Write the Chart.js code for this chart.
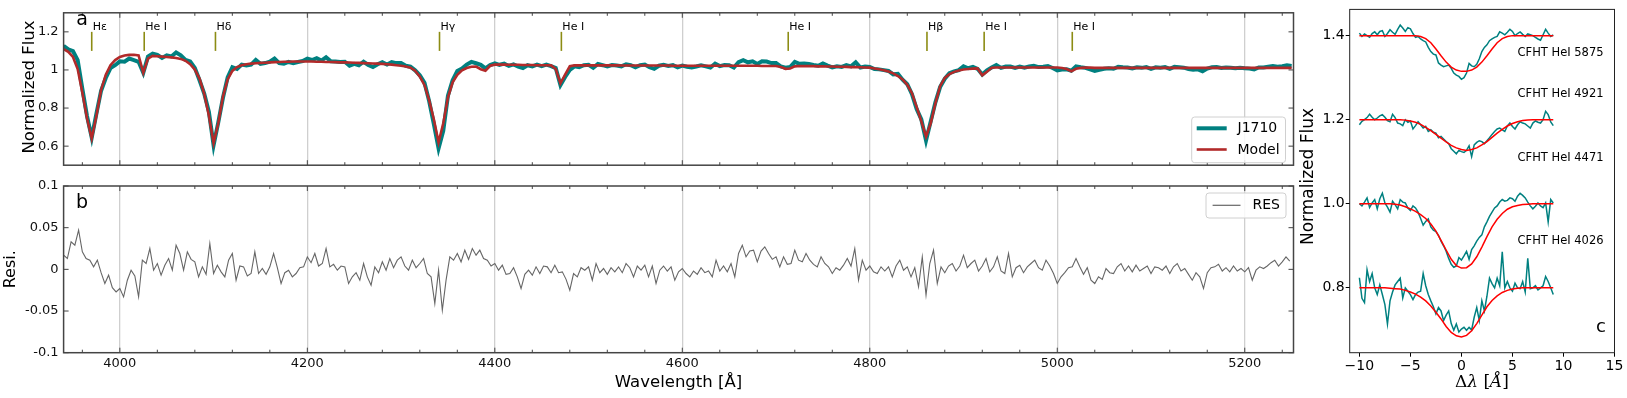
<!DOCTYPE html>
<html><head><meta charset="utf-8">
<script src="https://cdn.jsdelivr.net/npm/chart.js@4.4.1/dist/chart.umd.min.js"></script>
<style>
html,body{margin:0;padding:0;background:#fff;width:1627px;height:398px;overflow:hidden;position:relative}
canvas{position:absolute}
</style></head><body>
<canvas id="c1" width="1300" height="178" style="left:0;top:0"></canvas>
<canvas id="c2" width="1300" height="228" style="left:0;top:170px"></canvas>
<canvas id="c3" width="332" height="398" style="left:1295px;top:0"></canvas>
<script>
// ---------------- DATA ----------------
const specStart = 3940, specStep = 5;
const modelFlux = [
1.110,1.095,1.068,1.005,0.880,0.745,0.640,0.760,0.895,0.975,
1.025,1.052,1.068,1.076,1.079,1.080,1.076,0.985,1.060,1.074,
1.072,1.070,1.068,1.066,1.063,1.058,1.048,1.030,1.002,0.955,
0.875,0.760,0.615,0.720,0.860,0.950,0.995,1.015,1.025,1.030,
1.033,1.035,1.037,1.038,1.040,1.041,1.042,1.043,1.043,1.044,
1.044,1.044,1.044,1.044,1.043,1.043,1.042,1.042,1.041,1.040,
1.040,1.039,1.038,1.037,1.036,1.035,1.034,1.033,1.032,1.030,
1.028,1.025,1.022,1.018,1.012,0.996,0.965,0.920,0.840,0.740,
0.620,0.720,0.855,0.935,0.975,0.998,1.010,1.017,1.018,1.004,
0.996,1.022,1.028,1.028,1.028,1.027,1.027,1.027,1.026,1.026,
1.026,1.025,1.025,1.025,1.024,1.005,0.930,0.975,1.020,1.024,
1.024,1.024,1.024,1.024,1.024,1.024,1.024,1.024,1.024,1.023,
1.023,1.023,1.023,1.023,1.023,1.023,1.023,1.023,1.023,1.023,
1.022,1.022,1.022,1.022,1.022,1.022,1.022,1.022,1.022,1.022,
1.022,1.022,1.022,1.022,1.022,1.022,1.022,1.022,1.022,1.021,
1.021,1.021,1.021,1.016,1.006,1.008,1.019,1.021,1.020,1.020,
1.020,1.019,1.019,1.018,1.018,1.017,1.017,1.016,1.015,1.015,
1.014,1.013,1.012,1.008,1.004,0.999,0.992,0.982,0.968,0.950,
0.922,0.878,0.805,0.730,0.650,0.720,0.825,0.915,0.958,0.978,
0.990,0.997,1.002,1.005,1.007,1.008,0.972,0.990,1.012,1.013,
1.013,1.013,1.013,1.013,1.013,1.013,1.013,1.013,1.013,1.013,
1.013,1.013,1.013,1.010,1.005,0.993,1.006,1.011,1.012,1.012,
1.011,1.011,1.011,1.011,1.011,1.011,1.011,1.011,1.011,1.011,
1.011,1.011,1.011,1.011,1.011,1.011,1.011,1.011,1.011,1.011,
1.011,1.011,1.011,1.011,1.011,1.011,1.011,1.011,1.011,1.011,
1.011,1.011,1.011,1.011,1.011,1.011,1.011,1.011,1.011,1.011,
1.011,1.011,1.011];
const obsFlux = [
1.127,1.108,1.099,1.052,0.901,0.758,0.645,0.771,0.891,0.958,
1.010,1.025,1.045,1.043,1.060,1.052,1.043,0.985,1.070,1.085,
1.079,1.063,1.077,1.071,1.092,1.077,1.053,1.045,1.011,0.946,
0.876,0.780,0.605,0.725,0.854,0.961,1.014,1.005,1.028,1.024,
1.028,1.052,1.032,1.036,1.043,1.060,1.036,1.033,1.042,1.036,
1.042,1.047,1.059,1.052,1.062,1.049,1.067,1.046,1.044,1.042,
1.043,1.022,1.032,1.024,1.043,1.026,1.015,1.030,1.041,1.029,
1.041,1.036,1.037,1.022,1.017,0.998,0.972,0.933,0.835,0.715,
0.588,0.680,0.865,0.946,0.994,1.007,1.028,1.042,1.035,1.027,
1.008,1.026,1.035,1.027,1.033,1.021,1.029,1.018,1.010,1.025,
1.019,1.028,1.020,1.028,1.020,1.010,0.920,0.963,1.000,1.019,
1.015,1.025,1.027,1.011,1.031,1.025,1.018,1.026,1.023,1.019,
1.030,1.025,1.014,1.025,1.028,1.014,1.006,1.022,1.027,1.021,
1.025,1.014,1.023,1.017,1.013,1.018,1.024,1.019,1.013,1.033,
1.020,1.026,1.025,1.013,1.041,1.051,1.040,1.045,1.031,1.045,
1.044,1.036,1.036,1.019,1.012,1.015,1.042,1.032,1.034,1.031,
1.026,1.022,1.034,1.023,1.013,1.019,1.016,1.025,1.019,1.040,
1.013,1.018,1.016,1.005,1.003,0.999,0.995,0.977,0.979,0.949,
0.925,0.873,0.795,0.740,0.630,0.730,0.830,0.910,0.954,0.983,
0.993,0.999,1.019,1.009,1.016,1.006,0.976,0.998,1.013,1.026,
1.011,1.018,1.018,1.011,1.018,1.012,1.018,1.022,1.015,1.017,
1.021,1.010,0.998,1.002,1.003,0.996,1.019,1.014,1.011,1.003,
0.995,1.001,1.006,1.009,1.006,1.016,1.014,1.013,1.008,1.014,
1.011,1.015,1.006,1.014,1.012,1.015,1.006,1.016,1.014,1.012,
1.005,1.001,1.003,0.993,1.007,1.014,1.015,1.010,1.013,1.012,
1.009,1.012,1.009,1.007,1.003,1.013,1.013,1.017,1.021,1.017,
1.020,1.024,1.021];

const resStart = 3940, resStep = 4;
const residual = [
0.017,0.013,0.033,0.029,0.047,0.021,0.013,0.011,0.003,0.011,
-0.004,-0.017,-0.007,-0.022,-0.027,-0.023,-0.033,-0.013,-0.001,-0.008,
-0.033,0.011,0.007,0.025,-0.001,0.007,-0.007,0.005,0.013,-0.001,
0.029,0.019,-0.001,0.021,0.012,0.009,-0.009,0.003,-0.006,0.031,
-0.005,0.005,-0.003,-0.009,0.011,0.019,-0.013,0.004,0.003,-0.008,
-0.005,0.021,-0.005,0.001,-0.006,0.003,0.019,0.002,-0.017,-0.004,
-0.001,-0.009,-0.005,0.002,0.003,0.015,0.008,0.019,0.004,0.007,
0.025,0.003,0.006,-0.001,0.004,0.003,-0.017,-0.009,-0.004,-0.013,
0.007,-0.009,-0.019,0.003,-0.004,0.009,-0.001,0.013,0.002,0.011,
0.015,0.004,-0.001,0.011,0.002,0.007,0.013,-0.005,-0.009,-0.041,
-0.001,-0.049,-0.013,0.015,0.011,0.019,0.009,0.023,0.012,0.025,
0.017,0.023,0.013,0.011,0.004,0.007,-0.001,0.005,-0.006,-0.005,
0.002,-0.009,-0.023,-0.006,-0.001,-0.007,0.003,-0.005,0.004,0.003,
-0.004,0.005,-0.004,-0.003,-0.012,-0.025,-0.005,-0.009,0.002,-0.001,
0.003,-0.013,0.007,-0.004,0.001,-0.006,0.002,-0.003,0.003,-0.004,
0.007,0.002,-0.009,0.004,-0.001,0.005,-0.009,0.004,-0.017,-0.001,
0.004,-0.002,0.003,-0.013,-0.003,0.001,-0.005,-0.009,-0.002,-0.006,
0.002,-0.004,-0.002,-0.009,0.011,-0.002,0.004,-0.003,0.007,-0.009,
0.019,0.029,0.015,0.022,0.023,0.009,0.022,0.027,0.019,0.012,
0.015,0.003,0.015,0.006,0.007,0.023,0.011,0.009,0.019,0.011,
0.006,0.003,0.015,0.007,0.003,-0.005,0.002,-0.001,0.005,0.013,
0.004,0.025,-0.013,0.011,-0.001,0.004,-0.003,-0.005,0.003,-0.002,
0.003,-0.009,0.004,0.011,-0.001,0.003,-0.009,0.002,-0.021,0.015,
-0.031,0.007,0.023,-0.017,0.003,-0.004,0.004,0.007,-0.002,0.004,
0.017,0.002,0.007,0.011,-0.002,0.004,0.013,-0.003,0.003,0.015,
-0.002,-0.005,0.019,-0.009,0.002,0.005,-0.004,0.003,0.007,0.011,
0.002,-0.001,0.011,0.004,-0.005,-0.017,-0.009,-0.004,0.002,0.003,
0.013,0.003,-0.006,0.002,-0.013,-0.017,-0.009,-0.012,0.001,-0.004,
-0.005,0.003,0.007,-0.002,0.004,-0.003,0.005,-0.002,0.001,0.004,
-0.005,0.003,0.002,-0.001,0.004,-0.005,0.003,0.007,-0.002,0.001,
-0.006,-0.013,-0.004,-0.009,-0.023,-0.004,0.002,0.003,0.006,-0.002,
0.002,-0.003,0.004,-0.002,0.001,-0.003,0.002,-0.013,-0.001,0.003,
0.001,0.004,0.008,0.011,0.004,0.009,0.015,0.010];

const lineNames = ["H\u03b5","He I","H\u03b4","H\u03b3","He I","He I","H\u03b2","He I","He I"];
const lineWaves = [3970,4026,4102,4341,4471,4713,4861,4922,5016];

const waveMajorTicks = [4000,4200,4400,4600,4800,5000,5200];
const waveMinorTicks = [3960,4040,4080,4120,4160,4240,4280,4320,4360,4440,4480,4520,4560,4640,4680,4720,4760,4840,4880,4920,4960,5040,5080,5120,5160,5240];
const fluxTicks = [0.6,0.8,1.0,1.2];
const fluxTickLabels = ["0.6","0.8","1","1.2"];
const resTicks = [0.1,0.05,0,-0.05,-0.1];
const resTickLabels = ["0.1","0.05","0","-0.05","-0.1"];
const specLegend = ["J1710","Model"];
const resLegend = ["RES"];

// panel c
const dlStart = -10, dlStepObs = 0.25, dlStepModel = 0.5;
const obs5875 = [1.406,1.398,1.404,1.400,1.396,1.405,1.409,1.402,1.410,1.412,1.398,1.405,1.414,1.408,1.403,1.415,1.425,1.418,1.410,1.419,1.416,1.405,1.396,1.398,1.392,1.388,1.385,1.372,1.362,1.356,1.354,1.335,1.330,1.326,1.328,1.330,1.322,1.311,1.306,1.303,1.296,1.300,1.311,1.334,1.328,1.326,1.332,1.345,1.362,1.372,1.378,1.388,1.392,1.396,1.398,1.409,1.406,1.402,1.408,1.415,1.410,1.400,1.405,1.409,1.403,1.398,1.404,1.402,1.400,1.396,1.392,1.389,1.402,1.415,1.406,1.398,1.402];
const obs4921 = [1.188,1.196,1.200,1.205,1.213,1.206,1.200,1.204,1.209,1.212,1.206,1.198,1.195,1.213,1.205,1.192,1.190,1.186,1.200,1.194,1.197,1.178,1.186,1.195,1.188,1.180,1.184,1.172,1.176,1.170,1.168,1.157,1.160,1.154,1.148,1.143,1.131,1.125,1.119,1.127,1.124,1.122,1.127,1.138,1.112,1.140,1.146,1.150,1.148,1.143,1.150,1.157,1.165,1.172,1.178,1.180,1.176,1.172,1.185,1.192,1.184,1.178,1.188,1.195,1.192,1.190,1.185,1.180,1.192,1.197,1.194,1.192,1.200,1.220,1.212,1.195,1.186];
const obs4471 = [1.000,0.995,1.004,1.014,0.991,1.002,1.010,0.988,1.012,1.025,1.002,0.992,0.980,1.006,0.998,0.988,1.010,1.004,1.002,0.990,0.984,0.995,0.990,0.980,0.965,0.949,0.958,0.964,0.945,0.937,0.934,0.925,0.911,0.900,0.887,0.870,0.856,0.849,0.852,0.872,0.866,0.876,0.887,0.868,0.891,0.900,0.911,0.920,0.926,0.945,0.957,0.970,0.980,0.990,0.995,1.004,1.010,1.006,1.008,1.014,1.012,1.006,1.018,1.025,1.020,1.014,1.004,0.995,0.988,0.994,1.002,0.995,0.991,1.002,0.957,1.010,1.002];
const obs4026 = [0.824,0.775,0.765,0.843,0.815,0.834,0.800,0.784,0.807,0.784,0.760,0.714,0.769,0.790,0.807,0.815,0.823,0.776,0.800,0.792,0.784,0.772,0.784,0.790,0.792,0.834,0.805,0.784,0.769,0.755,0.738,0.753,0.745,0.722,0.735,0.745,0.715,0.699,0.714,0.695,0.702,0.706,0.699,0.706,0.700,0.730,0.753,0.722,0.769,0.745,0.780,0.823,0.810,0.800,0.823,0.805,0.886,0.800,0.815,0.800,0.792,0.811,0.800,0.798,0.815,0.790,0.870,0.798,0.800,0.805,0.795,0.800,0.805,0.827,0.815,0.800,0.784];
const fit5875 = [1.400,1.400,1.400,1.400,1.400,1.400,1.400,1.400,1.400,1.400,1.400,1.400,1.398,1.393,1.383,1.368,1.352,1.337,1.325,1.318,1.315,1.315,1.318,1.325,1.337,1.352,1.368,1.383,1.393,1.398,1.400,1.400,1.400,1.400,1.400,1.400,1.400,1.400,1.400];
const fit4921 = [1.200,1.200,1.200,1.200,1.200,1.200,1.200,1.200,1.200,1.199,1.197,1.194,1.189,1.182,1.174,1.165,1.156,1.147,1.139,1.133,1.129,1.127,1.129,1.133,1.140,1.148,1.158,1.168,1.177,1.185,1.191,1.195,1.198,1.199,1.200,1.200,1.200,1.200,1.200];
const fit4471 = [1.000,1.000,1.000,1.000,1.000,1.000,1.000,0.999,0.997,0.993,0.988,0.982,0.974,0.965,0.952,0.935,0.913,0.890,0.868,0.853,0.847,0.848,0.857,0.874,0.897,0.922,0.945,0.963,0.977,0.987,0.993,0.996,0.998,0.999,1.000,1.000,1.000,1.000,1.000];
const fit4026 = [0.800,0.800,0.800,0.800,0.800,0.800,0.799,0.798,0.797,0.794,0.790,0.785,0.778,0.769,0.757,0.742,0.726,0.708,0.694,0.686,0.683,0.687,0.698,0.715,0.735,0.755,0.770,0.781,0.789,0.794,0.797,0.799,0.800,0.800,0.800,0.800,0.800,0.800,0.800];
const profileLabels = ["CFHT HeI 5875","CFHT HeI 4921","CFHT HeI 4471","CFHT HeI 4026"];
const profileLabelX = [5.5,5.5,5.5,5.5];
const profileLabelY = [1.359,1.26,1.11,0.911];
const cXTicks = [-10,-5,0,5,10,15];
const cXTickLabels = ["\u221210","\u22125","0","5","10","15"];
const cYTicks = [0.8,1.0,1.2,1.4];
const cYTickLabels = ["0.8","1.0","1.2","1.4"];

// ---------------- HELPERS ----------------
const F = '"DejaVu Sans", sans-serif';
const SERIF = '"DejaVu Serif", serif';
const TEAL = '#008080', FIRE = '#b22a2a', GRAY = '#666666', OLIVE = '#8c8c14', SPINE = '#444444';
function grid(start, step, n){ const a=[]; for(let i=0;i<n;i++) a.push(+(start+i*step).toFixed(4)); return a; }
function pts(xs, ys){ return ys.map((y,i)=>({x:xs[i], y:y})); }
function txt(ctx, s, x, y, font, o){ o=o||{}; ctx.save(); ctx.font=font; ctx.fillStyle=o.color||'#000';
  ctx.textAlign=o.align||'center'; ctx.textBaseline=o.base||'middle';
  if(o.rot){ ctx.translate(x,y); ctx.rotate(o.rot); ctx.fillText(s,0,0);} else ctx.fillText(s,x,y); ctx.restore(); }
function richTxt(ctx, parts, cx, y){ // parts: [text,font]
  ctx.save(); ctx.textBaseline='middle'; ctx.textAlign='left'; ctx.fillStyle='#000';
  let w=0; parts.forEach(p=>{ctx.font=p[1]; w+=ctx.measureText(p[0]).width;});
  let x=cx-w/2; parts.forEach(p=>{ctx.font=p[1]; ctx.fillText(p[0],x,y); x+=ctx.measureText(p[0]).width;});
  ctx.restore(); }
function setTicks(vals){ return s => { s.ticks = vals.map(v=>({value:v})); }; }
function legendBox(ctx, x0,y0,x1,y1){ const r=3; ctx.save(); ctx.beginPath();
  ctx.moveTo(x0+r,y0); ctx.lineTo(x1-r,y0); ctx.quadraticCurveTo(x1,y0,x1,y0+r); ctx.lineTo(x1,y1-r);
  ctx.quadraticCurveTo(x1,y1,x1-r,y1); ctx.lineTo(x0+r,y1); ctx.quadraticCurveTo(x0,y1,x0,y1-r);
  ctx.lineTo(x0,y0+r); ctx.quadraticCurveTo(x0,y0,x0+r,y0); ctx.closePath();
  ctx.fillStyle='rgba(255,255,255,0.85)'; ctx.fill(); ctx.strokeStyle='#d0d0d0'; ctx.lineWidth=1; ctx.stroke(); ctx.restore(); }
function seg(ctx,x0,y0,x1,y1,col,w){ ctx.save(); ctx.strokeStyle=col; ctx.lineWidth=w; ctx.beginPath(); ctx.moveTo(x0,y0); ctx.lineTo(x1,y1); ctx.stroke(); ctx.restore(); }
function inTicksAndBox(chart, yTickVals){
  const {ctx, chartArea:a, scales} = chart; const x=scales.x, y=scales.y;
  ctx.save(); ctx.strokeStyle=SPINE; ctx.lineWidth=1; ctx.beginPath();
  waveMajorTicks.forEach(v=>{const p=x.getPixelForValue(v); ctx.moveTo(p,a.bottom); ctx.lineTo(p,a.bottom-5); ctx.moveTo(p,a.top); ctx.lineTo(p,a.top+5);});
  waveMinorTicks.forEach(v=>{const p=x.getPixelForValue(v); ctx.moveTo(p,a.bottom); ctx.lineTo(p,a.bottom-3); ctx.moveTo(p,a.top); ctx.lineTo(p,a.top+3);});
  yTickVals.forEach(v=>{const p=y.getPixelForValue(v); ctx.moveTo(a.left,p); ctx.lineTo(a.left+5,p); ctx.moveTo(a.right,p); ctx.lineTo(a.right-5,p);});
  ctx.stroke();
  ctx.lineWidth=1.5; ctx.strokeRect(a.left,a.top,a.right-a.left,a.bottom-a.top);
  ctx.restore();
}
const baseOpts = { responsive:false, animation:false, events:[], devicePixelRatio:1,
  plugins:{legend:{display:false}, tooltip:{enabled:false}},
  elements:{point:{radius:0}, line:{tension:0}} };

const specWave = grid(specStart, specStep, modelFlux.length);
const resWave = grid(resStart, resStep, residual.length);
const dlObs = grid(dlStart, dlStepObs, obs5875.length);
const dlModel = grid(dlStart, dlStepModel, fit5875.length);

// ---------------- CHART A ----------------
new Chart(document.getElementById('c1'), {
  type:'line',
  data:{ datasets:[
    {label:specLegend[0], data:pts(specWave,obsFlux), borderColor:TEAL, borderWidth:4, order:2},
    {label:specLegend[1], data:pts(specWave,modelFlux), borderColor:FIRE, borderWidth:2.6, order:1}
  ]},
  options:Object.assign({}, baseOpts, {
    layout:{padding:{top:3.3,right:6.5,bottom:0,left:0}},
    scales:{
      x:{type:'linear', min:3940, max:5252, afterBuildTicks:setTicks(waveMajorTicks), afterFit:s=>{s.height=8;},
         ticks:{display:false}, border:{display:false},
         grid:{display:true, drawTicks:false, drawOnChartArea:true, color:'#cfcfcf', lineWidth:1.3}},
      y:{type:'linear', min:0.5, max:1.3, afterBuildTicks:setTicks(fluxTicks), afterFit:s=>{s.width=63.6;},
         ticks:{padding:5, font:{family:F,size:13}, color:'#111', callback:(v,i)=>fluxTickLabels[i]},
         border:{display:false}, grid:{display:false, drawTicks:false}}
    }
  }),
  plugins:[{id:'decoA', afterDatasetsDraw(chart){ inTicksAndBox(chart, fluxTicks); },
    afterDraw(chart){
      const {ctx, scales:{x,y}} = chart;
      const yTop=y.getPixelForValue(1.2), yBot=y.getPixelForValue(1.1);
      lineWaves.forEach((w,i)=>{ const px=x.getPixelForValue(w);
        seg(ctx,px,yTop,px,yBot,OLIVE,1.6);
        txt(ctx,lineNames[i],px+1,yTop+1,'11px '+F,{align:'left',base:'bottom'}); });
      txt(ctx,'a',82,20,'19px '+F);
      txt(ctx,'Normalized Flux',30,87,'16.5px '+F,{rot:-Math.PI/2});
      legendBox(ctx,1191.7,117,1285.5,162.7);
      seg(ctx,1196.7,128.3,1226.7,128.3,TEAL,4);
      seg(ctx,1196.7,149.5,1226.7,149.5,FIRE,2.6);
      txt(ctx,specLegend[0],1237.5,128.8,'14px '+F,{align:'left'});
      txt(ctx,specLegend[1],1237.5,150,'14px '+F,{align:'left'});
    }}]
});

// ---------------- CHART B ----------------
new Chart(document.getElementById('c2'), {
  type:'line',
  data:{ datasets:[ {label:resLegend[0], data:pts(resWave,residual), borderColor:GRAY, borderWidth:1.1} ]},
  options:Object.assign({}, baseOpts, {
    layout:{padding:{top:16,right:6.5,bottom:0,left:0}},
    scales:{
      x:{type:'linear', min:3940, max:5252, afterBuildTicks:setTicks(waveMajorTicks), afterFit:s=>{s.height=45.3;},
         ticks:{display:true, padding:3, font:{family:F,size:13}, color:'#111', autoSkip:false, maxRotation:0, minRotation:0,
                callback:v=>String(v)},
         border:{display:false},
         grid:{display:true, drawTicks:false, drawOnChartArea:true, color:'#cfcfcf', lineWidth:1.3}},
      y:{type:'linear', min:-0.1, max:0.1, afterBuildTicks:setTicks(resTicks), afterFit:s=>{s.width=63.6;},
         ticks:{padding:5, font:{family:F,size:13}, color:'#111', callback:(v,i)=>resTickLabels[i]},
         border:{display:false}, grid:{display:false, drawTicks:false}}
    }
  }),
  plugins:[{id:'decoB', afterDatasetsDraw(chart){ inTicksAndBox(chart, resTicks); },
    afterDraw(chart){
      const ctx=chart.ctx;
      txt(ctx,'b',82,33,'19px '+F);
      txt(ctx,'Resi.',11,99.3,'16px '+F,{rot:-Math.PI/2});
      txt(ctx,'Wavelength [\u00c5]',678.5,213,'16.5px '+F);
      legendBox(ctx,1206,23,1286,48);
      seg(ctx,1212.6,35.3,1240.5,35.3,GRAY,1.2);
      txt(ctx,resLegend[0],1252.5,35.8,'14px '+F,{align:'left'});
    }}]
});

// ---------------- CHART C ----------------
const RED='#ff0000';
new Chart(document.getElementById('c3'), {
  type:'line',
  data:{ datasets:[
    {data:pts(dlObs,obs5875), borderColor:TEAL, borderWidth:1.5, order:2},
    {data:pts(dlObs,obs4921), borderColor:TEAL, borderWidth:1.5, order:2},
    {data:pts(dlObs,obs4471), borderColor:TEAL, borderWidth:1.5, order:2},
    {data:pts(dlObs,obs4026), borderColor:TEAL, borderWidth:1.5, order:2},
    {data:pts(dlModel,fit5875), borderColor:RED, borderWidth:1.5, order:1},
    {data:pts(dlModel,fit4921), borderColor:RED, borderWidth:1.5, order:1},
    {data:pts(dlModel,fit4471), borderColor:RED, borderWidth:1.5, order:1},
    {data:pts(dlModel,fit4026), borderColor:RED, borderWidth:1.5, order:1}
  ]},
  options:Object.assign({}, baseOpts, {
    layout:{padding:{top:3.3,right:12.5,bottom:0,left:0}},
    scales:{
      x:{type:'linear', min:-10.95, max:15, afterBuildTicks:setTicks(cXTicks), afterFit:s=>{s.height=45.3;},
         ticks:{padding:1, font:{family:F,size:14}, color:'#000', autoSkip:false, maxRotation:0, minRotation:0,
                callback:(v,i)=>cXTickLabels[i]},
         border:{display:false},
         grid:{display:true, drawOnChartArea:false, drawTicks:true, tickLength:4, color:'#000', lineWidth:1}},
      y:{type:'linear', min:0.6457, max:1.4624, afterBuildTicks:setTicks(cYTicks), afterFit:s=>{s.width=54.7;},
         ticks:{padding:1, font:{family:F,size:14}, color:'#000', callback:(v,i)=>cYTickLabels[i]},
         border:{display:false},
         grid:{display:true, drawOnChartArea:false, drawTicks:true, tickLength:4, color:'#000', lineWidth:1}}
    }
  }),
  plugins:[{id:'decoC', afterDraw(chart){
      const {ctx, chartArea:a, scales:{x,y}} = chart;
      ctx.save(); ctx.strokeStyle='#222'; ctx.lineWidth=1; ctx.strokeRect(a.left,a.top,a.right-a.left,a.bottom-a.top); ctx.restore();
      profileLabels.forEach((s,i)=> txt(ctx,s,x.getPixelForValue(profileLabelX[i]),y.getPixelForValue(profileLabelY[i]),'11.5px '+F,{align:'left'}));
      txt(ctx,'c',306,327,'18px '+F);
      txt(ctx,'Normalized Flux',14,176.5,'17px '+F,{rot:-Math.PI/2});
      richTxt(ctx,[['\u0394','17px '+SERIF],['\u03bb','italic 17px '+SERIF],[' [','17px '+SERIF],['\u00c5','italic 17px '+SERIF],[']','17px '+SERIF]],187,383);
    }}]
});
</script>
</body></html>
